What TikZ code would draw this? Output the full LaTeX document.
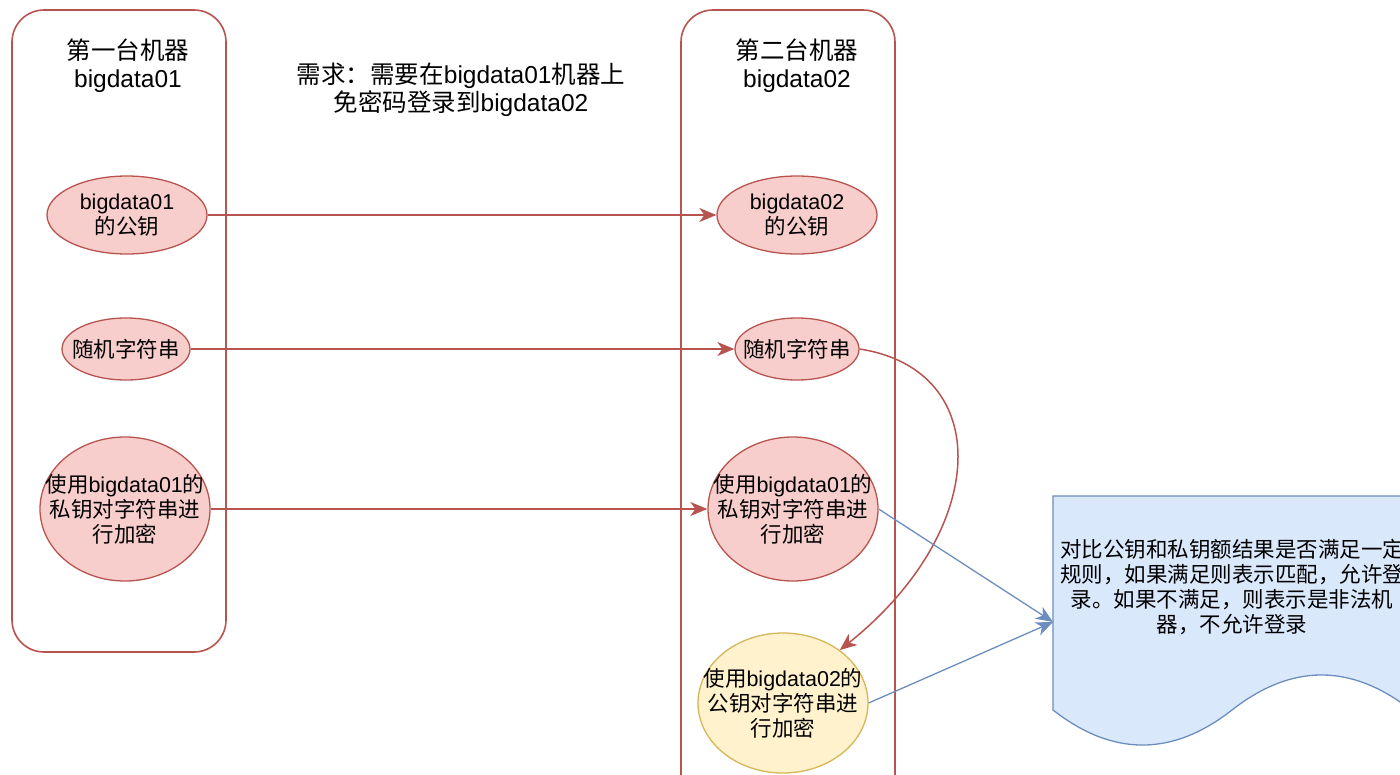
\documentclass[tikz,border=0pt]{standalone}
\usepackage{fontspec}
\setmainfont{Liberation Sans}
\newfontfamily\cjk{Noto Sans CJK SC}
\newcommand{\zh}[1]{{\cjk #1}}
\usetikzlibrary{shapes.geometric, arrows.meta, positioning}
\definecolor{redline}{HTML}{B85450}
\definecolor{redfill}{HTML}{F8CECC}
\definecolor{blueline}{HTML}{6C8EBF}
\definecolor{bluefill}{HTML}{DAE8FC}
\definecolor{yelline}{HTML}{D6B656}
\definecolor{yelfill}{HTML}{FFF2CC}

\begin{document}
\begin{tikzpicture}[
  x=1pt, y=-1pt,
  machine/.style={draw=redline, line width=1.6pt, rounded corners=32pt, minimum width=214pt, inner sep=0pt},
  title/.style={align=center, font=\fontsize{24.5}{28}\selectfont, inner sep=0pt},
  keyell/.style={ellipse, draw=redline, fill=redfill, line width=1.3pt, inner sep=0pt},
  pubell/.style={ellipse, draw=yelline, fill=yelfill, line width=1.3pt, inner sep=0pt},
  every label/.style={align=center, font=\fontsize{21.5}{25}\selectfont, inner sep=0pt},
  link/.style={draw=redline, line width=1.5pt, -{Stealth[length=17pt, width=14pt, inset=5pt]}},
  cmp/.style={draw=blueline, line width=1.3pt, -{Stealth[length=17pt, width=14pt, inset=5pt]}}
]
  \useasboundingbox (0,0) rectangle (1400,774);

  % the two machines
  \node[machine, minimum height=642pt] (m1) at (119,331) {};
  \node[machine, minimum height=820pt] (m2) at (788,420) {};
  \node[title] (t1) at (128,66) {\zh{第一台机器}\\bigdata01};
  \node[title] (t2) at (797,66) {\zh{第二台机器}\\bigdata02};
  \node[title] (need) at (461,90) {\zh{需求：需要在}bigdata01\zh{机器上}\\\zh{免密码登录到}bigdata02};

  % keys and strings
  \node[keyell, minimum width=160pt, minimum height=78pt, label={center:bigdata01\\\zh{的公钥}}] (e1) at (127,215) {};
  \node[keyell, minimum width=128pt, minimum height=62pt, label={center:\zh{随机字符串}}] (e2) at (126,349) {};
  \node[keyell, minimum width=170pt, minimum height=144pt, label={center:\zh{使用}bigdata01\zh{的}\\\zh{私钥对字符串进}\\\zh{行加密}}] (e3) at (125,509) {};

  \node[keyell, minimum width=160pt, minimum height=78pt, label={center:bigdata02\\\zh{的公钥}}] (r1) at (797,215) {};
  \node[keyell, minimum width=124pt, minimum height=62pt, label={center:\zh{随机字符串}}] (r2) at (797,349) {};
  \node[keyell, minimum width=170pt, minimum height=144pt, label={center:\zh{使用}bigdata01\zh{的}\\\zh{私钥对字符串进}\\\zh{行加密}}] (r3) at (793,509) {};
  \node[pubell, minimum width=170pt, minimum height=140pt, label={center:\zh{使用}bigdata02\zh{的}\\\zh{公钥对字符串进}\\\zh{行加密}}] (r4) at (783,703) {};

  % result of the comparison
  \draw[draw=blueline, fill=bluefill, line width=1.3pt] (1053,496) -- (1411,496) -- (1411,710)
    .. controls (1351.3,663.3) and (1291.7,663.3) .. (1232,710)
    .. controls (1172.3,756.7) and (1112.7,756.7) .. (1053,710) -- cycle;
  \coordinate (doc) at (1053,622);
  \node[align=center, font=\fontsize{21.5}{25}\selectfont\cjk, inner sep=0pt] (res) at (1232,587)
    {对比公钥和私钥额结果是否满足一定\\规则，如果满足则表示匹配，允许登\\录。如果不满足，则表示是非法机\\器，不允许登录};

  \draw[link] (e1.east) -- (r1.west);
  \draw[link] (e2.east) -- (r2.west);
  \draw[link] (e3.east) -- (r3.west);
  \draw[link] (r2.east) .. controls (995,370) and (990,530) .. (r4.43);
  \draw[cmp] (r3.east) -- (doc);
  \draw[cmp] (r4.east) -- (doc);
\end{tikzpicture}
\end{document}
